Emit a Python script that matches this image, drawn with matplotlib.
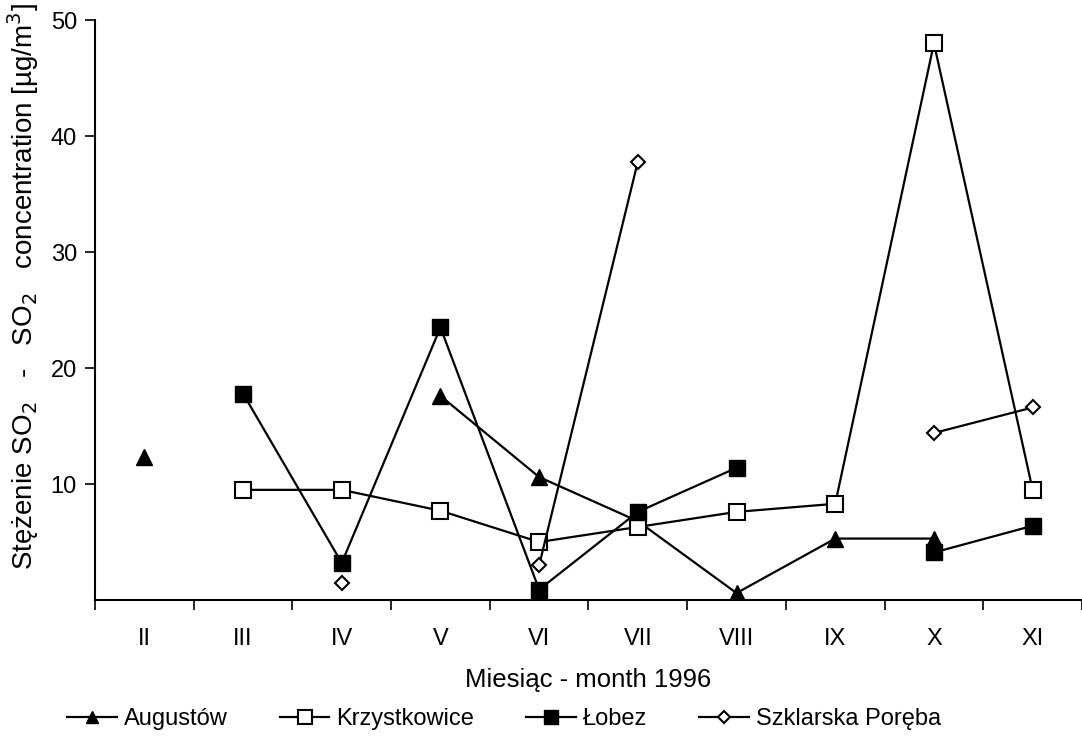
import numpy as np
import matplotlib
matplotlib.use("Agg")
import matplotlib.pyplot as plt

plt.rcParams['font.family'] = ['Liberation Sans', 'DejaVu Sans']

months = ["II", "III", "IV", "V", "VI", "VII", "VIII", "IX", "X", "XI"]
nan = np.nan
augustow = [12.3, nan, nan, 17.6, 10.6, 6.8, 0.6, 5.3, 5.3, nan]
krzystkowice = [nan, 9.5, 9.5, 7.7, 5.0, 6.3, 7.6, 8.3, 48.0, 9.5]
lobez = [nan, 17.8, 3.2, 23.5, 0.9, 7.6, 11.4, nan, 4.1, 6.4]
szklarska = [nan, nan, 1.5, nan, 3.0, 37.8, nan, nan, 14.4, 16.6]

fig = plt.figure(figsize=(10.82, 7.44), dpi=100)
ax = fig.add_axes([0.0878, 0.1935, 0.9122, 0.7795])
x = np.arange(len(months))

lw = 1.6
ax.plot(x, augustow, color='black', lw=lw, marker='^', ms=11, mfc='black', mec='black', label='Augustów')
ax.plot(x, krzystkowice, color='black', lw=lw, marker='s', ms=12, mfc='white', mec='black', mew=1.5, label='Krzystkowice')
ax.plot(x, lobez, color='black', lw=lw, marker='s', ms=12, mfc='black', mec='black', label='Łobez')
ax.plot(x, szklarska, color='black', lw=lw, marker='D', ms=7.5, mfc='white', mec='black', mew=1.5, label='Szklarska Poręba')

ax.set_xlim(-0.5, 9.5)
ax.set_ylim(0, 50)
ax.set_yticks([10, 20, 30, 40, 50])
ax.set_xticks(x)
ax.set_xticklabels(months)
ax.set_xticks(np.arange(-0.5, 9.6, 1), minor=True)
ax.tick_params(axis='x', which='major', length=0, pad=20, labelsize=17)
ax.tick_params(axis='x', which='minor', length=7, direction='out', width=1.2)
ax.tick_params(axis='y', length=7, direction='out', width=1.2, labelsize=17, pad=6)
for s in ['top', 'right']:
    ax.spines[s].set_visible(False)
for s in ['left', 'bottom']:
    ax.spines[s].set_linewidth(1.5)

ax.set_xlabel('Miesiąc - month 1996', fontsize=18.5)
ax.xaxis.set_label_coords(0.5, -0.118)
ax.set_ylabel('Stężenie SO$_2$   -   SO$_2$   concentration [µg/m$^3$]', fontsize=20)
ax.yaxis.set_label_coords(-0.055, 0.54)

fig.legend(loc='center', bbox_to_anchor=(0.466, 0.033), ncol=4, frameon=False,
           fontsize=17, handlelength=2.1, handletextpad=0.3, columnspacing=2.2,
           markerscale=0.8)

fig.savefig('out.png', dpi=100)
